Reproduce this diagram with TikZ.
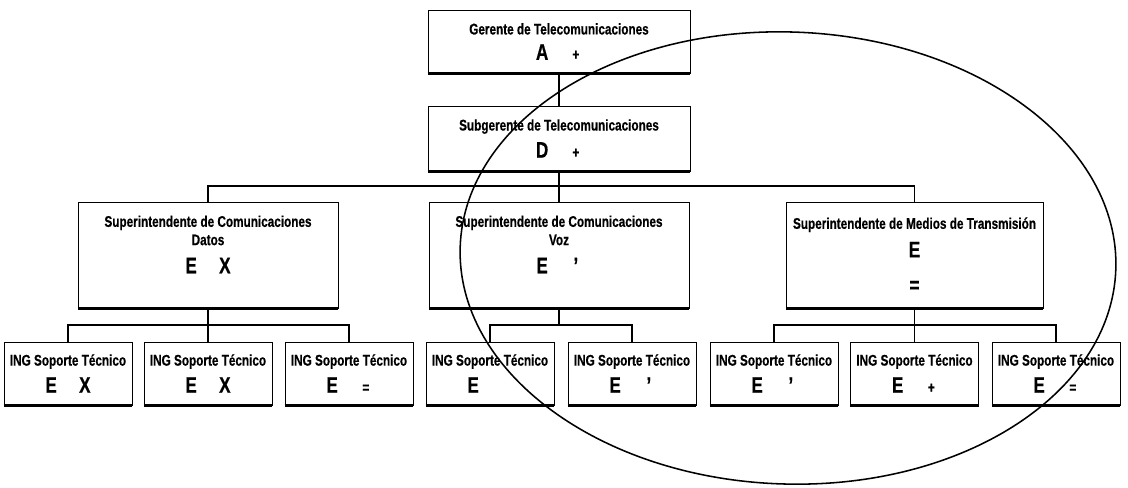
\documentclass[tikz,border=0pt]{standalone}
\usepackage{fontspec}
\setmainfont{Liberation Sans}[FakeStretch=0.76, BoldFeatures={FakeBold=0.5}]
\newcommand{\grande}{\fontsize{16}{18}\selectfont}
\newcommand{\cod}[2]{\makebox[24pt]{\grande #1}\makebox[24pt]{#2}}
\tikzset{
  caja/.style 2 args={draw, line width=0.6pt, align=center, inner sep=1pt,
    font=\bfseries\fontsize{11}{13}\selectfont,
    minimum width=#1*0.025cm, minimum height=#2*0.025cm},
  linea/.style={line width=1pt},
}

\begin{document}
\begin{tikzpicture}[x=0.025cm,y=-0.025cm]
 \useasboundingbox (0,0) rectangle (1128,487);
 % gerencia
 \node[caja={262}{63}] (gte) at (559,41.5) {Gerente de Telecomunicaciones\\[5pt] \cod{A}{+}};
 \node[caja={262}{65}] (sub) at (559,138.5) {Subgerente de Telecomunicaciones\\[5pt] \cod{D}{+}};
 % superintendencias
 \node[caja={260}{106}] (supd) at (208,255) {Superintendente de Comunicaciones\\ Datos\\[7pt] \cod{E}{\grande X}\\[2pt]\mbox{}};
 \node[caja={260}{106}] (supv) at (559,255) {Superintendente de Comunicaciones\\ Voz\\[7pt] \cod{E}{\grande '}\\[2pt]\mbox{}};
 \node[caja={257}{106}] (supm) at (914.5,255) {Superintendente de Medios de Transmisión\\[6pt] {\grande E}\\[12pt] {\grande =}};
 % ingenieros
 \foreach \n/\x/\c in {1/68/{\cod{E}{\grande X}}, 2/208/{\cod{E}{\grande X}}, 3/349/{\cod{E}{=}},
   4/490/{\cod{E}{}}, 5/632/{\cod{E}{\grande '}}, 6/774/{\cod{E}{\grande '}}, 7/914.5/{\cod{E}{+}}, 8/1056/{\cod{E}{=}}}
   \node[caja={128}{63}] (ing\n) at (\x,373.5) {ING Soporte Técnico\\[5pt] \c};
 \foreach \n in {gte,sub,supd,supv,supm,ing1,ing2,ing3,ing4,ing5,ing6,ing7,ing8}
   \draw[line width=1.8pt] (\n.south west) -- (\n.south east);
 % lineas de mando
 \coordinate (bus) at (0,186);
 \coordinate (busb) at (0,325);
 \draw[linea] (gte.south) -- (sub.north);
 \draw[linea] (sub.south) -- (supv.north);
 \draw[linea] (supd.north) |- (supm.north |- bus) -- (supm.north);
 \draw[linea] (supd.south) -- (ing2.north);
 \draw[linea] (ing1.north) |- (ing3.north |- busb) -- (ing3.north);
 \draw[linea] (supv.south) -- (supv.south |- busb);
 \draw[linea] (ing4.north) |- (ing5.north |- busb) -- (ing5.north);
 \draw[linea] (supm.south) -- (ing7.north);
 \draw[linea] (ing6.north) |- (ing8.north |- busb) -- (ing8.north);
 % elipse
 \coordinate (cen) at (788,258);
 \draw[line width=1.1pt, rotate around={-2:(cen)}] (cen) ellipse [x radius=328, y radius=226];
\end{tikzpicture}
\end{document}
